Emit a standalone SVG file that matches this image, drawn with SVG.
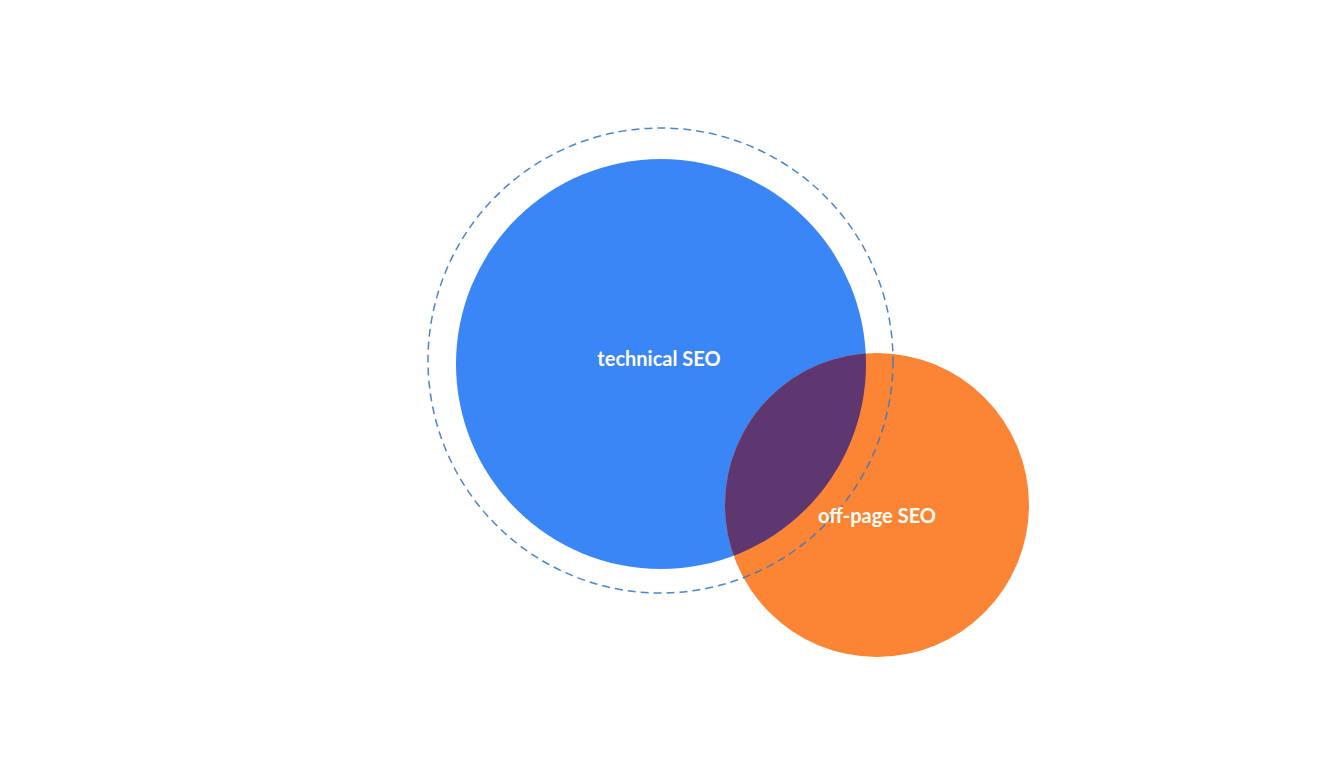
<svg xmlns="http://www.w3.org/2000/svg" width="1344" height="768" viewBox="0 0 1344 768">
<style>
.lbl{font-family:Lato,"Open Sans","Liberation Sans",sans-serif;font-weight:bold;font-size:20px;fill:#fffdf5;text-anchor:middle;dominant-baseline:central}
</style>
<defs>
<clipPath id="clipBlue"><circle cx="661" cy="364" r="205"/></clipPath>
</defs>
<rect width="1344" height="768" fill="#ffffff"/>
<g id="technical-seo">
<circle cx="661" cy="364" r="205" fill="#3a86f7"/>
</g>
<g id="off-page-seo">
<circle cx="877" cy="505" r="152" fill="#fb8534"/>
</g>
<g id="overlap">
<circle cx="877" cy="505" r="152" fill="#5e3670" clip-path="url(#clipBlue)"/>
</g>
<g id="connectors">
<circle cx="660.5" cy="360.5" r="232.5" fill="none" stroke="#3a78c8" stroke-width="1.5" stroke-dasharray="8 5" opacity="0.9"/>
</g>
<g id="labels">
<text class="lbl" x="659" y="358">technical SEO</text>
<text class="lbl" x="877" y="515">off-page SEO</text>
</g>
</svg>
